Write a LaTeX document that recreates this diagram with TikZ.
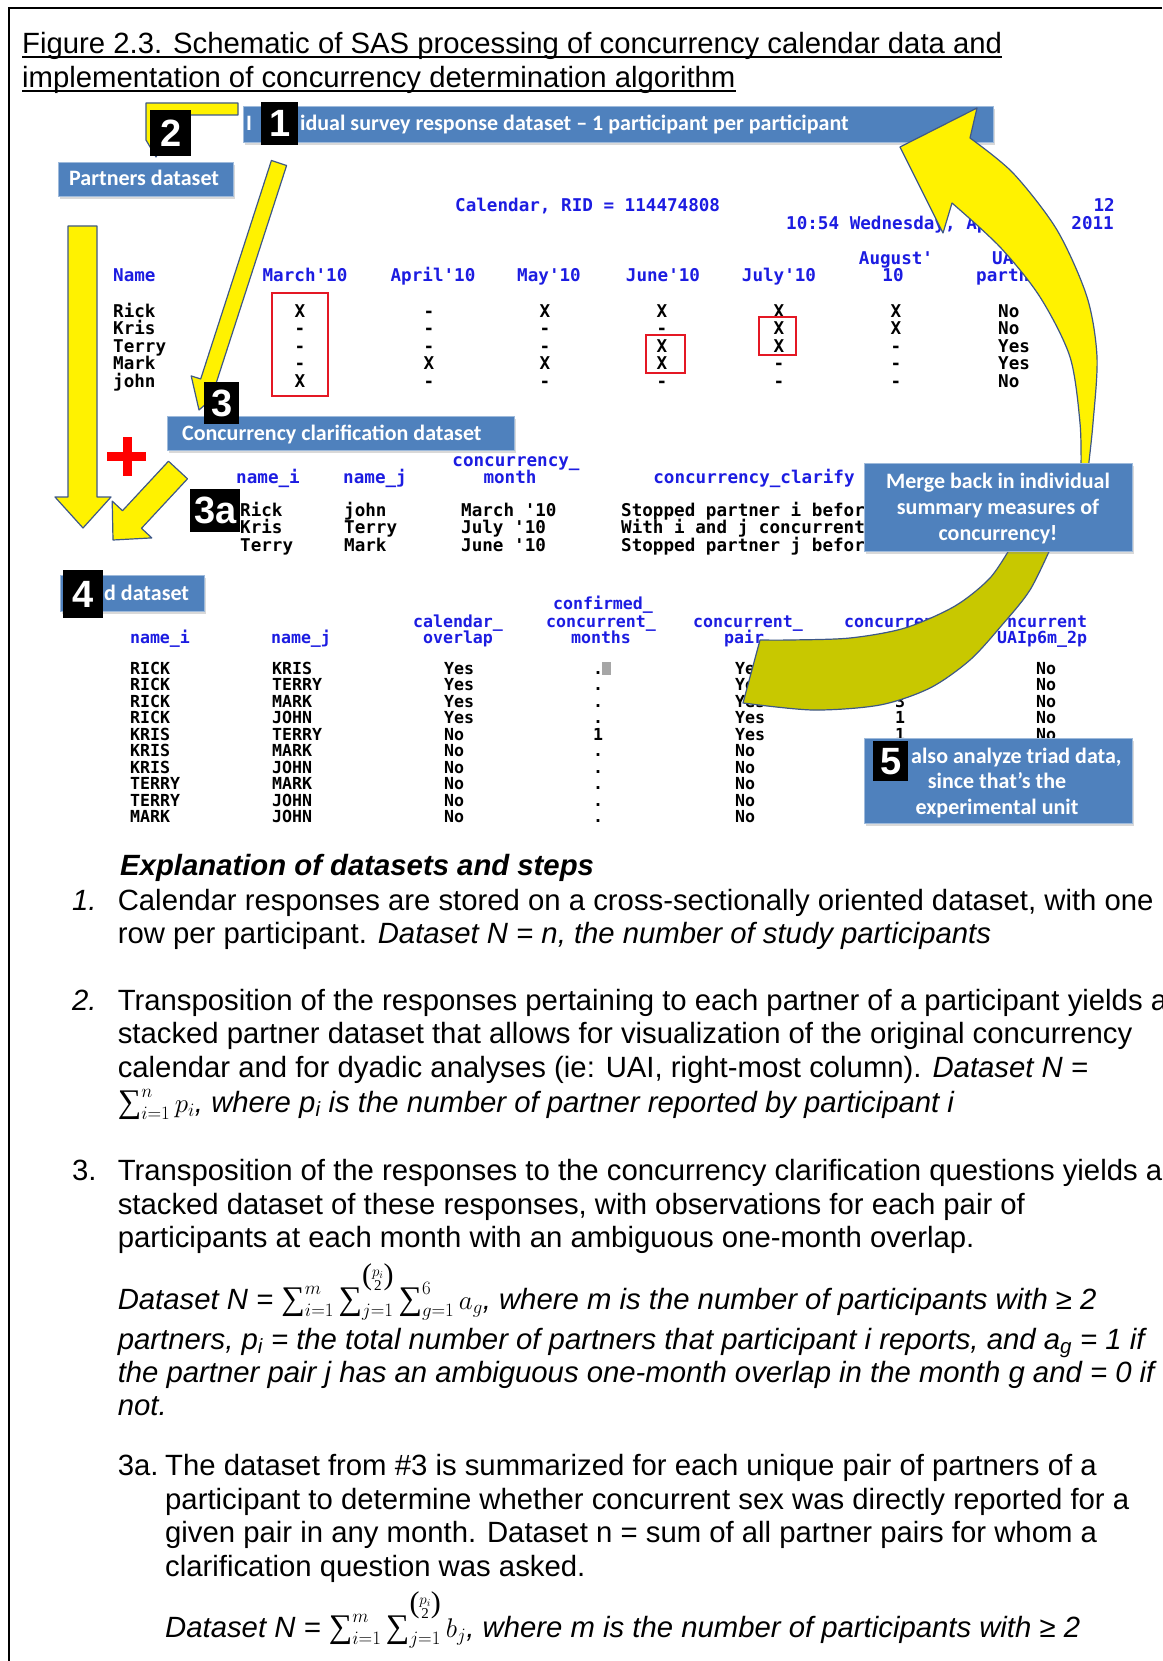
\RequirePackage{fix-cm}
\documentclass[tikz,border=0pt]{standalone}
\usepackage{amsmath}
\usepackage{fontspec}
\setmainfont{Liberation Sans}
\newfontfamily\bannerfont{Carlito}
\newfontfamily\sasfont{DejaVu Sans Mono}
\newfontfamily\sumfont{Liberation Serif}
\usetikzlibrary{shadows}

\definecolor{bannerblue}{RGB}{79,129,189}
\definecolor{sasblue}{RGB}{28,28,225}
\definecolor{arrowedge}{RGB}{62,88,135}
\definecolor{olivearrow}{RGB}{200,200,0}
\definecolor{calred}{RGB}{228,24,36}
\newcommand{\apos}{\textquotesingle}
\newcommand{\bigsum}{\mathop{\mbox{\sumfont\fontsize{33}{33}\selectfont ∑}}\nolimits}
\newcommand{\pairs}{\raisebox{10pt}{\sumfont\fontsize{30}{30}\selectfont(\fontsize{15}{14}\selectfont\begin{tabular}{@{}c@{}}$p_i$\\2\end{tabular}\fontsize{30}{30}\selectfont)}}
\newcommand{\mathsz}{\fontsize{27}{30}\selectfont}

\begin{document}
\begin{tikzpicture}[x=1pt, y=-1pt,
    banner/.style={rectangle, fill=bannerblue, draw=bannerblue!55!white, line width=0.8pt, inner sep=0pt, anchor=north west,
        drop shadow={opacity=0.3, shadow xshift=2pt, shadow yshift=-3pt}},
    btxt/.style={text=white, font=\bannerfont\bfseries\fontsize{22}{26}\selectfont, inner sep=0pt},
    numbox/.style={rectangle, fill=black, text=white, font=\bfseries\fontsize{38}{38}\selectfont, inner sep=0pt, anchor=north west},
    hdr/.style={text=sasblue, font=\sasfont\bfseries\fontsize{17.6}{17.6}\selectfont, inner sep=0pt, anchor=base},
    cell/.style={font=\sasfont\bfseries\fontsize{17.6}{17.6}\selectfont, inner sep=0pt, anchor=base},
    fhdr/.style={hdr, font=\sasfont\bfseries\fontsize{16.6}{16.6}\selectfont},
    fcell/.style={cell, font=\sasfont\bfseries\fontsize{16.6}{16.6}\selectfont},
    yarrow/.style={fill=yellow, draw=arrowedge, line width=1.2pt, line join=round},
    body/.style={font=\fontsize{29.3}{33.5}\selectfont, inner sep=0pt, anchor=base west},
    redbox/.style={draw=calred, line width=1.6pt}
]
    \useasboundingbox (0,0) rectangle (1162,1661);
    \clip (0,0) rectangle (1162,1661);
    \draw[line width=2pt] (8.5,1661) -- (8.5,8.5) -- (1162,8.5);

    \node[body] (title1) at (22,54) {Figure 2.3. Schematic of SAS processing of concurrency calendar data and};
    \node[body] (title2) at (22,88) {implementation of concurrency determination algorithm};
    \draw[line width=1.8pt] ([yshift=-3pt]title1.base west) -- ([yshift=-3pt]title1.base east);
    \draw[line width=1.8pt] ([yshift=-3pt]title2.base west) -- ([yshift=-3pt]title2.base east);

    \draw[yarrow] (238,103) -- (146,103) -- (146,140) -- (146,140) -- (156,157) -- (166,140) -- (160,140) -- (160,115) -- (238,115) -- cycle;

    \node[banner, minimum width=750, minimum height=36] (b1) at (243,106) {};
    \node[banner, minimum width=175, minimum height=34] (b2) at (58,162) {};
    \node[banner, minimum width=347, minimum height=34] (b3) at (167,416) {};
    \node[banner, minimum width=144, minimum height=36] (b4) at (60,575) {};
    \node[btxt, anchor=base west] (t1a) at (246,131) {I};
    \node[btxt, anchor=base west] (t1b) at (300,131) {idual survey response dataset – 1 participant per participant};
    \node[btxt, anchor=base west] (t2) at (69,186) {Partners dataset};
    \node[btxt, anchor=base west] (t3) at (182,440) {Concurrency clarification dataset};
    \node[btxt, anchor=base west] (t4) at (104,600) {d dataset};

    \draw[yarrow] (271.4,160.5) -- (200.7,379) -- (191.2,375.9) -- (199,410) -- (225.4,386.9) -- (215.9,383.9) -- (286.6,165.5) -- cycle;
    \draw[yarrow] (68,226) -- (97,226) -- (97,497) -- (111,497) -- (83,528) -- (55,497) -- (68,497) -- cycle;
    \draw[yarrow] (168.5,461.2) -- (122.5,510.7) -- (112.2,501.1) -- (113,540) -- (151.8,537.9) -- (141.5,528.3) -- (187.5,478.8) -- cycle;
    \draw[red, line width=9pt] (107,456) -- (146,456) (127,437) -- (127,476);

    \node[hdr, anchor=base west] (caltitle) at (455,212) {Calendar, RID = 114474808};
    \node[hdr, anchor=base east] (calpage) at (1115,212) {12};
    \node[hdr, anchor=base west] (caltime) at (786,230) {10:54 Wednesday, Ap};
    \node[hdr, anchor=base east] (calyear) at (1114,230) {2011};
    \node[hdr, anchor=base west] (hname) at (113,282) {Name};
    \foreach \m/\x [count=\c] in {March\apos10/305, April\apos10/433, May\apos10/549, June\apos10/663, July\apos10/779} {
        \node[hdr] (hm\c) at (\x,282) {\m};
    }
    \node[hdr] (haug) at (896,265) {August\apos};
    \node[hdr] (haug2) at (893,282) {10};
    \node[hdr, anchor=base west] (hua) at (992,265) {UA};
    \node[hdr, anchor=base west] (hpart) at (976,282) {partn};
    \foreach \nm/\mA/\mB/\mC/\mD/\mE/\mF/\ua [count=\r from 0] in {Rick/X/-/X/X/X/X/No, Kris/-/-/-/-/X/X/No, Terry/-/-/-/X/X/-/Yes, Mark/-/X/X/X/-/-/Yes, john/X/-/-/-/-/-/No} {
        \node[cell, anchor=base west] (cn\r) at (113,317+17.5*\r) {\nm};
        \foreach \v/\x [count=\k] in {\mA/300, \mB/429, \mC/545, \mD/662, \mE/779, \mF/896} {
            \node[cell] (cv\r-\k) at (\x,317+17.5*\r) {\v};
        }
        \node[cell, anchor=base west] (cu\r) at (998,317+17.5*\r) {\ua};
    }
    \draw[redbox] (272,293) rectangle (328,396);
    \draw[redbox] (646,335) rectangle (685,373);
    \draw[redbox] (759,317) rectangle (796,355);

    \node[hdr] (ci) at (268,483) {name\_i};
    \node[hdr] (cj) at (375,483) {name\_j};
    \node[hdr] (cm1) at (516,466) {concurrency\_};
    \node[hdr] (cm2) at (510,483) {month};
    \node[hdr] (cc) at (754,483) {concurrency\_clarify};
    \foreach \nmi/\nmj/\mon/\clr [count=\r from 0] in {Rick/john/{March \apos10}/{Stopped partner i befor}, Kris/Terry/{July \apos10}/{With i and j concurrent}, Terry/Mark/{June \apos10}/{Stopped partner j befor}} {
        \node[cell, anchor=base west] (qa\r) at (240,516+17.5*\r) {\nmi};
        \node[cell, anchor=base west] (qb\r) at (344,516+17.5*\r) {\nmj};
        \node[cell, anchor=base west] (qc\r) at (461,516+17.5*\r) {\mon};
        \node[cell, anchor=base west] (qd\r) at (621,516+17.5*\r) {\clr};
    }

    \node[fhdr] (fi) at (160,643) {name\_i};
    \node[fhdr] (fj) at (301,643) {name\_j};
    \node[fhdr] (fo1) at (458,627) {calendar\_};
    \node[fhdr] (fo2) at (458,643) {overlap};
    \node[fhdr] (fc1) at (603,609) {confirmed\_};
    \node[fhdr] (fc2) at (601,627) {concurrent\_};
    \node[fhdr] (fc3) at (601,643) {months};
    \node[fhdr] (fp1) at (748,627) {concurrent\_};
    \node[fhdr] (fp2) at (744,643) {pair};
    \node[fhdr, anchor=base west] (fm1) at (844,627) {concurrent};
    \node[fhdr] (fm2) at (899,643) {mon};
    \node[fhdr, anchor=base west] (fu1) at (1007,627) {ncurrent};
    \node[fhdr, anchor=base west] (fu2) at (997,643) {UAIp6m\_2p};
    \foreach \nmi/\nmj/\ovl/\cfm/\cpr [count=\r from 0] in {RICK/KRIS/Yes/./Yes, RICK/TERRY/Yes/./Yes, RICK/MARK/Yes/./Yes, RICK/JOHN/Yes/./Yes, KRIS/TERRY/No/1/Yes, KRIS/MARK/No/./No, KRIS/JOHN/No/./No, TERRY/MARK/No/./No, TERRY/JOHN/No/./No, MARK/JOHN/No/./No} {
        \node[fcell, anchor=base west] (ra\r) at (130,674+16.5*\r) {\nmi};
        \node[fcell, anchor=base west] (rb\r) at (272,674+16.5*\r) {\nmj};
        \node[fcell, anchor=base west] (rc\r) at (444,674+16.5*\r) {\ovl};
        \node[fcell] (rd\r) at (598,674+16.5*\r) {\cfm};
        \node[fcell, anchor=base west] (re\r) at (735,674+16.5*\r) {\cpr};
    }
    \fill[gray!70] (602,662) rectangle (611,675);
    \foreach \v [count=\r from 2] in {3,1,1} {
        \node[fcell] (rf\r) at (900,674+16.5*\r) {\v};
    }
    \foreach \r in {0,...,4} {
        \node[fcell, anchor=base west] (rg\r) at (1036,674+16.5*\r) {No};
    }

    \draw[yarrow] (900,147) -- (977,108) -- (970,138)
        -- plot[smooth] coordinates {(970,138) (1013,173) (1057,230) (1087,297) (1097,357) (1093,423) (1088,470)}
        -- (1081,470)
        -- plot[smooth] coordinates {(1081,470) (1080,423) (1070,357) (1040,297) (1000,247) (952,203)}
        -- (943,233) -- cycle;
    \draw[yarrow, fill=olivearrow] (1012,545)
        -- plot[smooth] coordinates {(1012,545) (990,578) (955,606) (905,628) (850,638) (790,640) (760,640)}
        -- (743,703)
        -- plot[smooth] coordinates {(743,703) (813,710) (880,705) (930,688) (970,660) (1002,625) (1030,590) (1052,545)}
        -- cycle;

    \node[banner, minimum width=268, minimum height=88] (merge) at (864,463) {};
    \foreach \t/\y [count=\c] in {Merge back in individual/488, summary measures of/514, concurrency!/540} {
        \node[btxt, anchor=base] (mt\c) at (998,\y) {\t};
    }
    \node[banner, minimum width=268, minimum height=85] (triad) at (864,738) {};
    \node[btxt, anchor=base west] (tt1) at (911,763.5) {also analyze triad data,};
    \node[btxt, anchor=base] (tt2) at (997,788.5) {since that’s the};
    \node[btxt, anchor=base] (tt3) at (997,814.5) {experimental unit};

    \node[numbox, minimum width=37, minimum height=43] (n1) at (261,102) {1};
    \node[numbox, minimum width=41, minimum height=46] (n2) at (150,110) {2};
    \node[numbox, minimum width=35, minimum height=42] (n3) at (204,382) {3};
    \node[numbox, minimum width=50, minimum height=43] (n3a) at (190,489) {3a};
    \node[numbox, minimum width=40, minimum height=48] (n4) at (63,570) {4};
    \node[numbox, minimum width=35, minimum height=40] (n5) at (873,741) {5};

    \node[body, font=\bfseries\itshape\fontsize{29.3}{33.5}\selectfont] (expl) at (120,875) {Explanation of datasets and steps};
    \node[body, font=\itshape\fontsize{29.3}{33.5}\selectfont] (num1) at (72,910) {1.};
    \foreach \y/\t [count=\c] in {910/{Calendar responses are stored on a cross-sectionally oriented dataset, with one},
        943/{row per participant. \textit{Dataset N = n, the number of study participants}}} {
        \node[body] (pa\c) at (117.6,\y) {\t};
    }
    \node[body, font=\itshape\fontsize{29.3}{33.5}\selectfont] (num2) at (72,1010) {2.};
    \foreach \y/\t [count=\c] in {1010/{Transposition of the responses pertaining to each partner of a participant yields a},
        1043/{stacked partner dataset that allows for visualization of the original concurrency},
        1077/{calendar and for dyadic analyses (ie: UAI, right-most column). \textit{Dataset N =}},
        1112/{{\mathsz$\bigsum_{i=1}^{n} p_i$}\textit{, where p\textsubscript{i} is the number of partner reported by participant i}}} {
        \node[body] (pb\c) at (117.6,\y) {\t};
    }
    \node[body] (num3) at (72,1180) {3.};
    \foreach \y/\t [count=\c] in {1180/{Transposition of the responses to the concurrency clarification questions yields a},
        1214/{stacked dataset of these responses, with observations for each pair of},
        1247/{participants at each month with an ambiguous one-month overlap.},
        1309/{\textit{Dataset N = }{\mathsz$\bigsum_{i=1}^{m}\bigsum_{j=1}^{\pairs}\bigsum_{g=1}^{6} a_g$}\textit{, where m  is the number of participants with ≥ 2}},
        1349/{\textit{partners, p\textsubscript{i} = the total number of partners that participant i reports, and a\textsubscript{g} = 1 if}},
        1382/{\textit{the partner pair j has an ambiguous one-month overlap in the month g and = 0 if}},
        1415/{\textit{not.}}} {
        \node[body] (pc\c) at (117.6,\y) {\t};
    }
    \node[body] (num3a) at (117.6,1475) {3a.};
    \foreach \y/\t [count=\c] in {1475/{The dataset from \#3 is summarized for each unique pair of partners of a},
        1509/{participant to determine whether concurrent sex was directly reported for a},
        1542/{given pair in any month. Dataset n = sum of all partner pairs for whom a},
        1576/{clarification question was asked.},
        1637/{\textit{Dataset N = }{\mathsz$\bigsum_{i=1}^{m}\bigsum_{j=1}^{\pairs} b_j$}\textit{, where m  is the number of participants with ≥ 2}}} {
        \node[body] (pd\c) at (165,\y) {\t};
    }
\end{tikzpicture}
\end{document}
